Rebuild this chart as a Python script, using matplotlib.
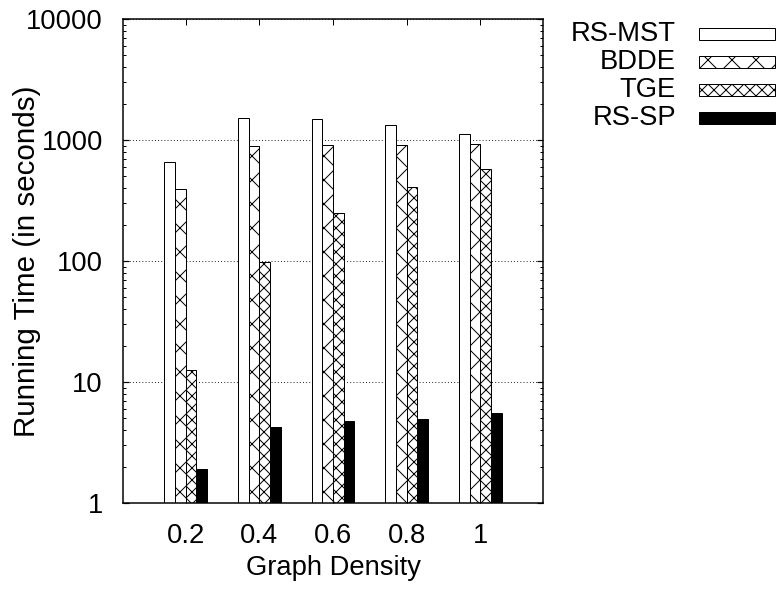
import numpy as np
import matplotlib; matplotlib.use("Agg")
import matplotlib.pyplot as plt
from matplotlib.patches import Rectangle

# data (running time in seconds, log scale)
densities = ["0.2", "0.4", "0.6", "0.8", "1"]
series = ["RS-MST", "BDDE", "TGE", "RS-SP"]
rs_mst = [654, 1520, 1500, 1330, 1115]
bdde = [391, 892, 910, 910, 927]
tge = [12.6, 97.5, 251, 406, 572]
rs_sp = [1.91, 4.25, 4.76, 4.98, 5.51]

faces = ["white", "white", "white", "black"]
hatches = [None, "x", "xx", None]

DPI = 72  # 1 pt = 1 px; hatch cells come out at ~12 px ('x') and ~6 px ('xx')
plt.rcParams["font.family"] = ["Liberation Sans", "DejaVu Sans"]
plt.rcParams["font.size"] = 27.4
plt.rcParams["hatch.linewidth"] = 1.0

fig = plt.figure(figsize=(778 / DPI, 595 / DPI), dpi=DPI)
ax = fig.add_axes([123 / 778, 1 - 503 / 595, (543 - 123) / 778, (503 - 19) / 595])

x = np.arange(len(densities))
w = 0.145
for i, (vals, fc, h) in enumerate(zip([rs_mst, bdde, tge, rs_sp], faces, hatches)):
    ax.bar(x + (i - 1.5) * w, vals, w, color=fc, edgecolor="black", hatch=h,
           linewidth=1.0, zorder=2)

ax.set_yscale("log")
ax.set_ylim(1, 10000)
ax.set_xlim(-0.85, 4.85)
ax.set_yticks([1, 10, 100, 1000, 10000])
ax.set_yticklabels(["1", "10", "100", "1000", "10000"])
ax.set_xticks(x)
ax.set_xticklabels(densities)
ax.tick_params(axis="y", which="major", direction="in", length=6, width=1.2,
               right=True, pad=20)
ax.tick_params(axis="y", which="minor", direction="in", length=3, width=1.0, right=True)
ax.tick_params(axis="x", direction="in", length=6, width=1.0, top=True, pad=20)
for s in ax.spines.values():
    s.set_linewidth(1.5)
ax.grid(axis="y", which="major", color="black", linestyle=(0, (1, 2.5)), linewidth=0.9)
ax.set_axisbelow(True)

ax.set_ylabel("Running Time (in seconds)", fontsize=29.5, va="center")
ax.yaxis.set_label_coords(-0.228, 0.5)
ax.set_xlabel("Graph Density", va="center")
ax.xaxis.set_label_coords(0.5, -0.134)

# legend: label right-aligned, sample box to the right
rows = [34, 62, 90, 118]
for name, fc, h, yc in zip(series, faces, hatches, rows):
    fig.text(676 / 778, 1 - yc / 595, name, ha="right", va="center")
    fig.patches.append(Rectangle((699 / 778, 1 - (yc + 6) / 595), 76 / 778, 12 / 595,
                                 transform=fig.transFigure, facecolor=fc, edgecolor="black",
                                 hatch=h, linewidth=1.0))

fig.savefig("out.png", dpi=DPI)
